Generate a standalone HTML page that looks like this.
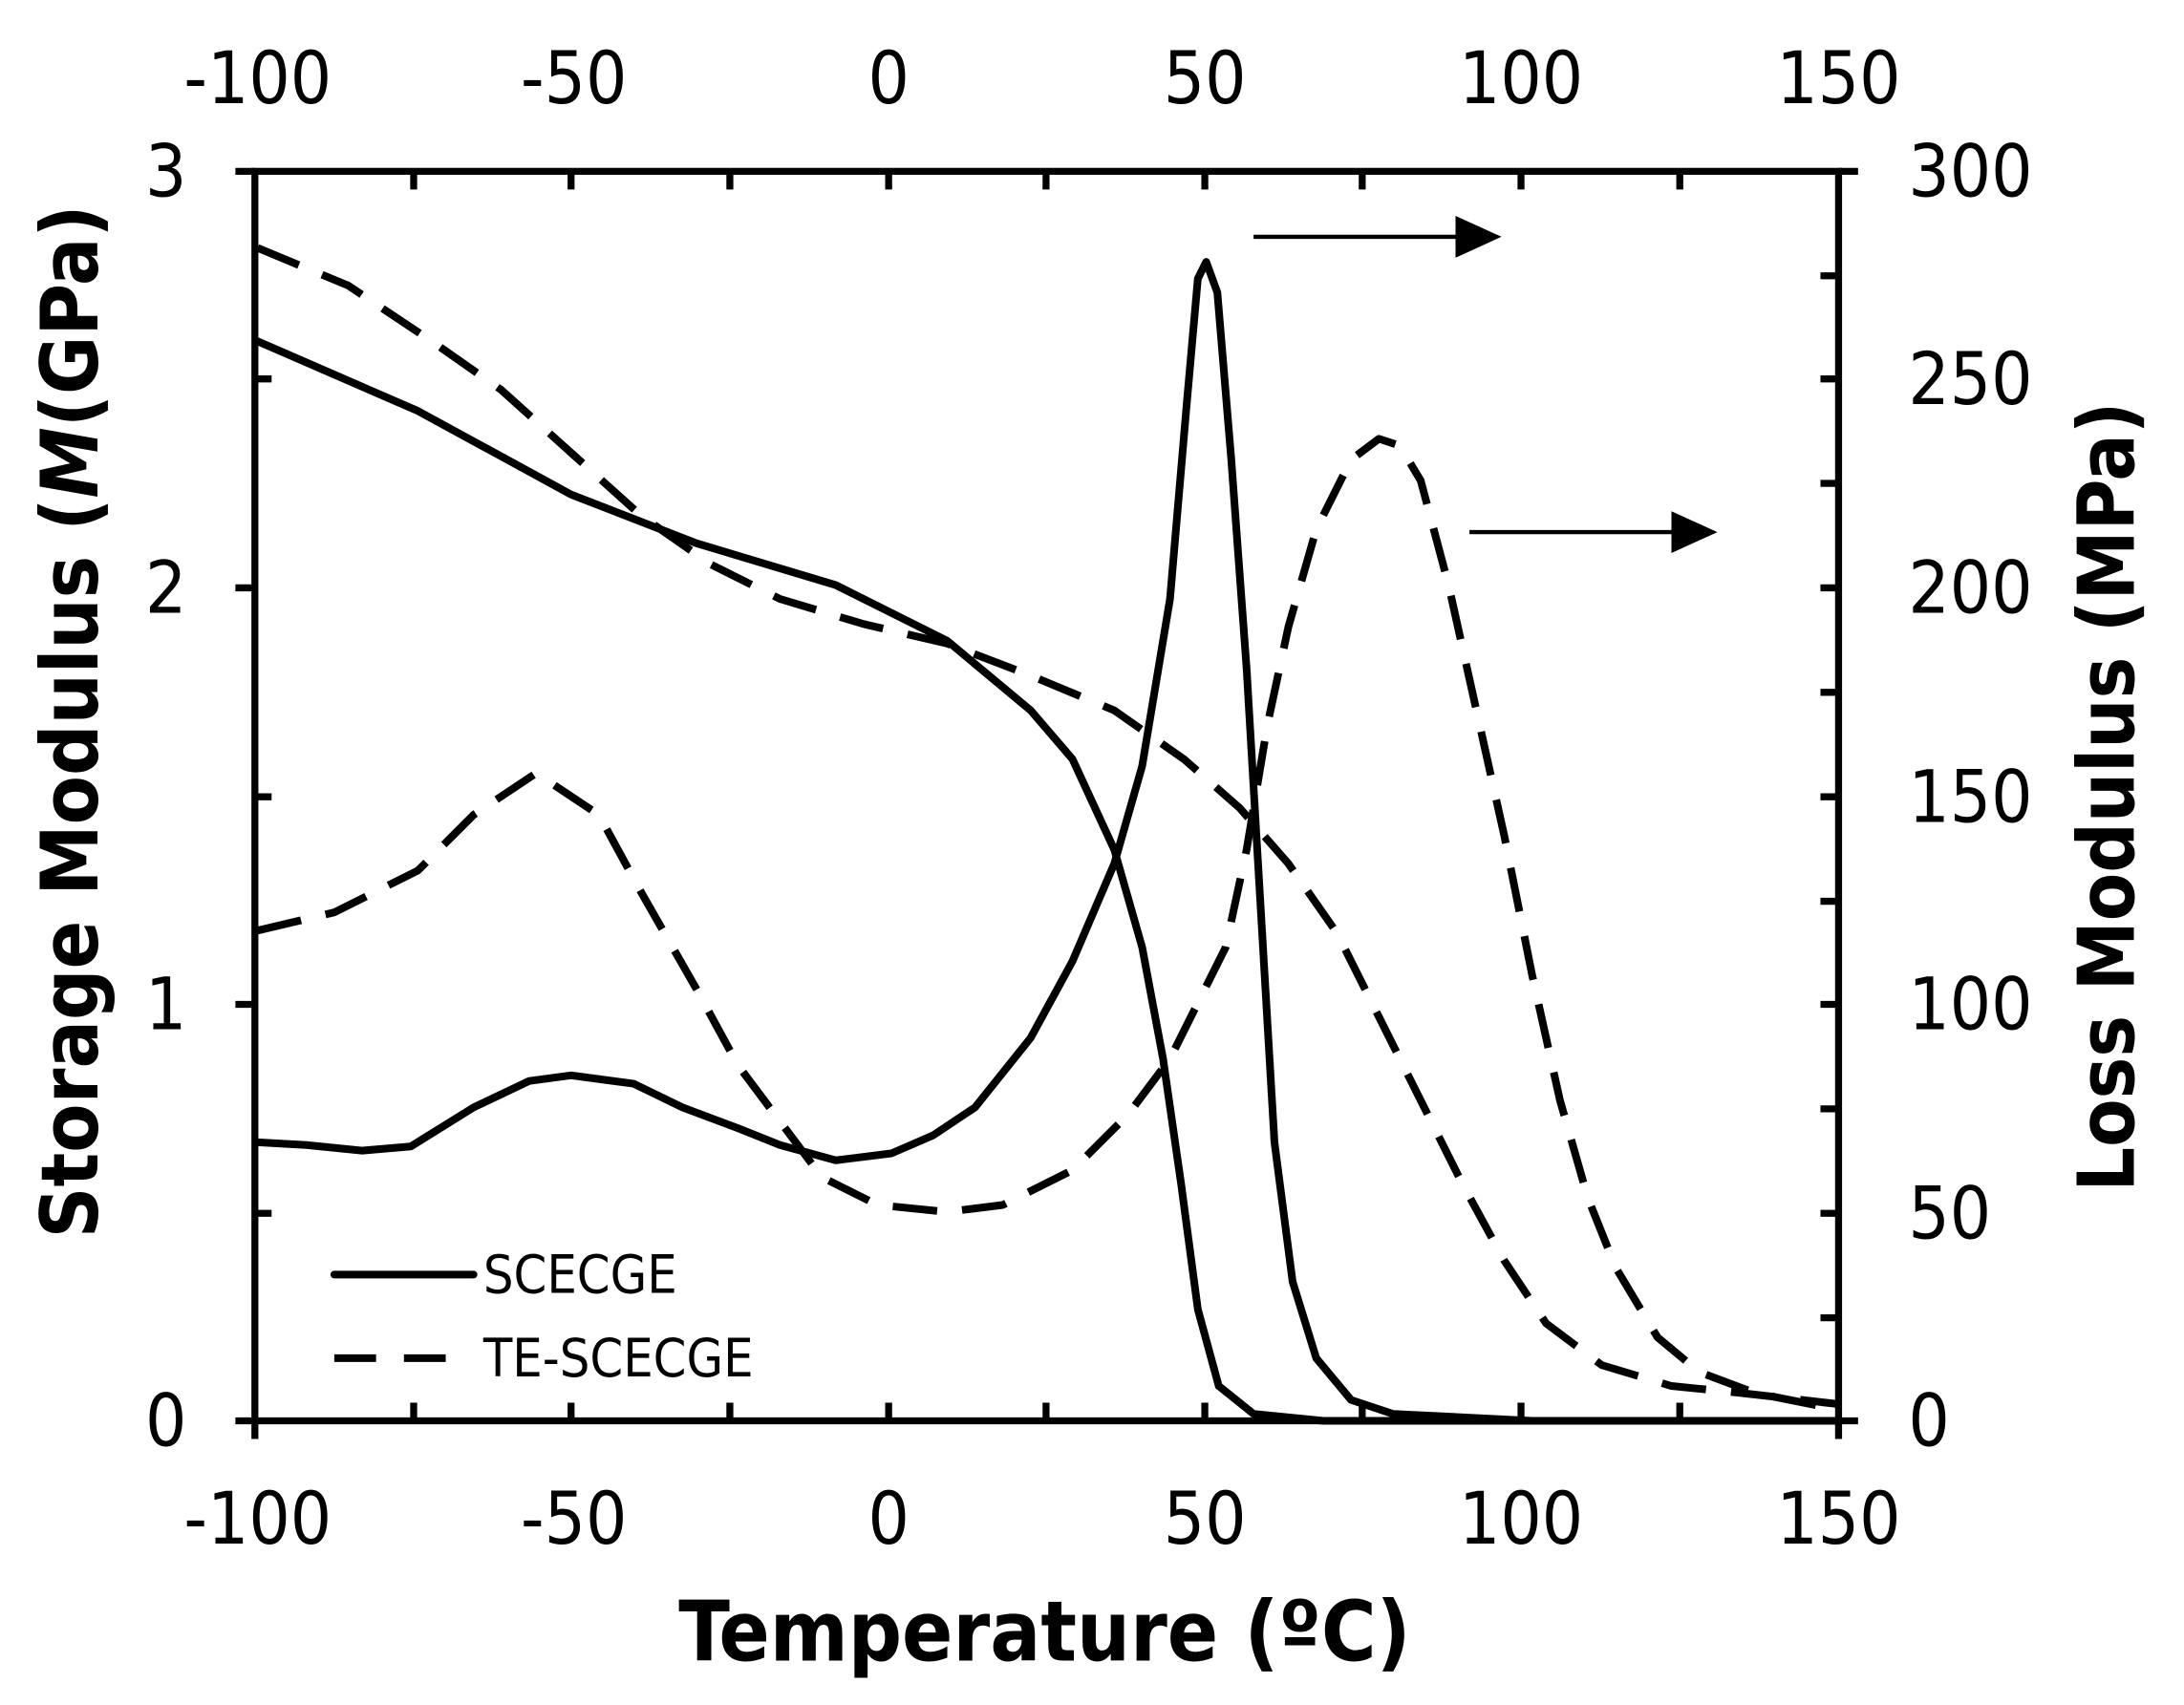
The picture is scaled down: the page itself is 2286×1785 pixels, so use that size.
<!DOCTYPE html>
<html><head><style>html,body{margin:0;padding:0;background:#fff}svg{display:block}</style></head>
<body>
<svg width="2286" height="1785" viewBox="0 0 1568 1224" preserveAspectRatio="none" xmlns="http://www.w3.org/2000/svg" font-family="'DejaVu Sans Condensed','Liberation Sans',sans-serif">
<rect width="1568" height="1224" fill="#fff"/>
<g stroke="#000" stroke-width="5" fill="none">
<rect x="183" y="123" width="1137" height="897"/>
<path d="M183,1020v13M297,1020v-13M410,1020v-13M524,1020v-13M638,1020v-13M751,1020v-13M865,1020v-13M978,1020v-13M1092,1020v-13M1206,1020v-13M1320,1020v13
M297,123v13M410,123v13M524,123v13M638,123v13M751,123v13M865,123v13M978,123v13M1092,123v13M1206,123v13
M183,123h-14M183,272h12M183,422h-14M183,572h12M183,721h-14M183,871h12M183,1020h-14
M1320,123h14M1320,198h-13M1320,272h-13M1320,347h-13M1320,422h-13M1320,497h-13M1320,572h-13M1320,647h-13M1320,721h-13M1320,796h-13M1320,871h-13M1320,946h-13M1320,1020h14"/>
</g>
<g fill="none" stroke="#000" stroke-width="5.5" stroke-linejoin="round" stroke-linecap="round">
<polyline points="185,245 300,295 410,355 500,390 600,420 680,460 740,510 770,545 800,610 820,680 835,760 848,850 860,940 875,995 900,1015 950,1020 1320,1020"/>
<polyline points="185,820 220,822 260,826 295,823 340,795 380,776 410,772 455,778 490,795 530,810 560,822 600,833 640,828 670,815 700,795 740,745 770,690 800,620 820,550 840,430 852,290 860,200 866,188 874,210 884,330 895,480 905,650 915,820 928,920 945,975 970,1005 1000,1015 1100,1020 1320,1020"/>
<g stroke-dasharray="32,18" stroke-linecap="butt">
<polyline points="185,178 250,205 310,245 360,280 410,325 460,370 510,405 560,430 620,448 680,462 740,485 800,510 850,545 890,580 925,620 960,670 990,730 1020,790 1050,850 1080,905 1110,950 1150,980 1200,995 1250,1000 1320,1008"/>
<polyline points="185,668 240,655 300,625 340,585 385,555 430,585 460,640 500,710 530,765 560,805 590,845 630,865 680,870 720,865 770,840 810,800 840,760 860,720 880,680 895,610 910,520 925,450 945,380 970,330 990,315 1005,320 1020,345 1040,420 1060,510 1080,600 1100,700 1120,790 1140,860 1160,910 1190,960 1220,985 1260,1000 1320,1012"/>
<line x1="240" y1="975" x2="340" y2="975" stroke-dasharray="30,20"/>
</g>
<line x1="240" y1="915" x2="340" y2="915"/>
</g>
<g stroke="#000" stroke-width="3"><line x1="900" y1="170" x2="1048" y2="170"/><line x1="1055" y1="382" x2="1202" y2="382"/></g>
<polygon points="1045,155 1078,170 1045,185" fill="#000"/>
<polygon points="1200,367 1233,382 1200,397" fill="#000"/>
<g font-size="38" fill="#000"><text x="347" y="928">SCECGE</text><text x="347" y="988">TE-SCECGE</text></g>
<g font-size="52" fill="#000" text-anchor="middle">
<text x="185" y="74">-100</text><text x="412" y="74">-50</text><text x="638" y="74">0</text><text x="865" y="74">50</text><text x="1092" y="74">100</text><text x="1320" y="74">150</text>
<text x="185" y="1108">-100</text><text x="412" y="1108">-50</text><text x="638" y="1108">0</text><text x="865" y="1108">50</text><text x="1092" y="1108">100</text><text x="1320" y="1108">150</text>
</g>
<g font-size="52" fill="#000" text-anchor="end">
<text x="134" y="141">3</text><text x="134" y="440">2</text><text x="134" y="739">1</text><text x="134" y="1038">0</text>
</g>
<g font-size="52" fill="#000" text-anchor="start">
<text x="1370" y="141">300</text><text x="1370" y="290">250</text><text x="1370" y="440">200</text><text x="1370" y="590">150</text><text x="1370" y="739">100</text><text x="1370" y="889">50</text><text x="1370" y="1038">0</text>
</g>
<text x="750" y="1192" font-size="60" font-weight="bold" text-anchor="middle">Temperature (ºC)</text>
<text transform="translate(70,518) rotate(-90)" font-size="57" font-weight="bold" text-anchor="middle">Storage Modulus (<tspan font-style="italic">M</tspan>(GPa)</text>
<text transform="translate(1532,572) rotate(-90)" font-size="56" font-weight="bold" text-anchor="middle">Loss Modulus (MPa)</text>
</svg>
</body></html>
